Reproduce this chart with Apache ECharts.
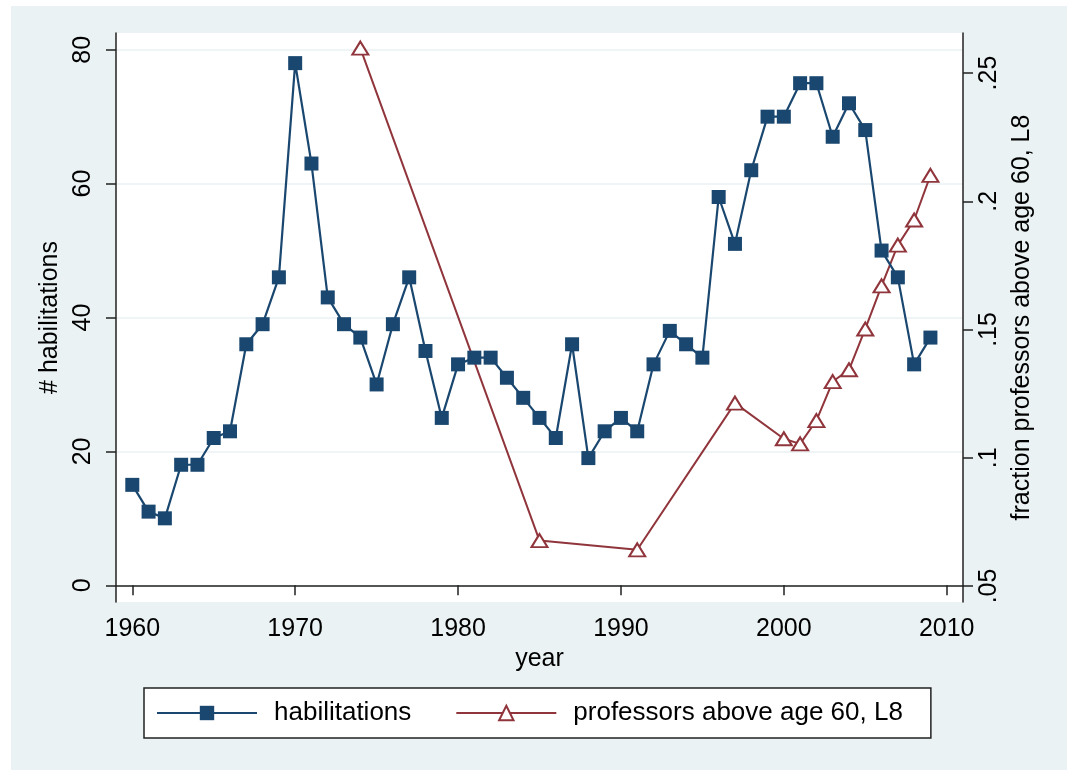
<!DOCTYPE html>
<html>
<head>
<meta charset="utf-8">
<script src="https://cdn.jsdelivr.net/npm/echarts@6/dist/echarts.min.js"></script>
<style>
  html, body { margin: 0; padding: 0; background: #fff; }
  #chart { width: 1069px; height: 770px; }
</style>
</head>
<body>
<div id="chart"></div>
<script>
// habilitations per year
const habYears = [1960, 1961, 1962, 1963, 1964, 1965, 1966, 1967, 1968, 1969,
  1970, 1971, 1972, 1973, 1974, 1975, 1976, 1977, 1978, 1979,
  1980, 1981, 1982, 1983, 1984, 1985, 1986, 1987, 1988, 1989,
  1990, 1991, 1992, 1993, 1994, 1995, 1996, 1997, 1998, 1999,
  2000, 2001, 2002, 2003, 2004, 2005, 2006, 2007, 2008, 2009];
const habValues = [15, 11, 10, 18, 18, 22, 23, 36, 39, 46,
  78, 63, 43, 39, 37, 30, 39, 46, 35, 25,
  33, 34, 34, 31, 28, 25, 22, 36, 19, 23,
  25, 23, 33, 38, 36, 34, 58, 51, 62, 70,
  70, 75, 75, 67, 72, 68, 50, 46, 33, 37];

// fraction professors above 60, lagged 8
const profYears = [1974, 1985, 1991, 1997, 2000, 2001, 2002, 2003, 2004, 2005, 2006, 2007, 2008, 2009];
const profValues = [0.2597, 0.0677, 0.0641, 0.1213, 0.1074, 0.1054, 0.1145, 0.1297, 0.1343, 0.1502, 0.1670, 0.1829, 0.1927, 0.2101];

// ticks
const xTicks = [1960, 1970, 1980, 1990, 2000, 2010];
const yLeftTicks = [0, 20, 40, 60, 80];
const yRightTicks = [0.05, 0.1, 0.15, 0.2, 0.25];
const yRightLabels = [".05", ".1", ".15", ".2", ".25"];

const navy = "#1A476F";
const maroon = "#90353B";
const bluishgray = "#EAF2F3";

const chart = echarts.init(document.getElementById("chart"));

const option = {
  backgroundColor: "#fff",
  animation: false,
  textStyle: { fontFamily: "Liberation Sans, Arial, sans-serif", color: "#000" },
  graphic: [
    {
      type: "rect",
      z: -10,
      silent: true,
      shape: { x: 11, y: 6, width: 1056, height: 764 },
      style: { fill: bluishgray }
    }
  ],
  grid: {
    left: 116,
    right: 106,
    top: 33,
    bottom: 168,
    show: true,
    backgroundColor: "#fff",
    borderWidth: 0,
    outerBoundsMode: "none"
  },
  legend: {
    left: 144,
    top: 688,
    orient: "horizontal",
    backgroundColor: "#fff",
    borderColor: "#222",
    borderWidth: 1.5,
    borderRadius: 0,
    padding: [12, 28, 12, 12],
    itemWidth: 100,
    itemHeight: 18,
    itemGap: 44,
    textStyle: { fontSize: 26, color: "#000", padding: [0, 0, 0, 12] },
    data: ["habilitations", "professors above age 60, L8"]
  },
  xAxis: {
    type: "value",
    min: 1959,
    max: 2011,
    name: "year",
    nameLocation: "middle",
    nameGap: 40,
    nameTextStyle: { fontSize: 25, color: "#000" },
    axisLine: { show: true, lineStyle: { color: "#222", width: 1.5 } },
    axisTick: { show: true, length: 10, customValues: xTicks, lineStyle: { color: "#222", width: 1.5 } },
    axisLabel: {
      customValues: xTicks,
      fontSize: 25,
      color: "#000",
      margin: 15,
      formatter: (v) => String(Math.round(v))
    },
    splitLine: { show: false }
  },
  yAxis: [
    {
      type: "value",
      position: "left",
      min: -2.5,
      max: 82.5,
      name: "# habilitations",
      nameLocation: "middle",
      nameRotate: 90,
      nameGap: 50,
      nameTextStyle: { fontSize: 25, color: "#000" },
      axisLine: { show: true, lineStyle: { color: "#222", width: 1.5 } },
      axisTick: { show: true, length: 10, customValues: yLeftTicks, lineStyle: { color: "#222", width: 1.5 } },
      axisLabel: { customValues: yLeftTicks, rotate: 90, fontSize: 25, color: "#000", margin: 20 },
      splitLine: { show: true, lineStyle: { color: bluishgray, width: 1.5 } }
    },
    {
      type: "value",
      position: "right",
      min: 0.04375,
      max: 0.2656,
      name: "fraction professors above age 60, L8",
      nameLocation: "middle",
      nameRotate: 90,
      nameGap: 41,
      nameTextStyle: { fontSize: 25, color: "#000" },
      axisLine: { show: true, lineStyle: { color: "#222", width: 1.5 } },
      axisTick: { show: true, length: 10, customValues: yRightTicks, lineStyle: { color: "#222", width: 1.5 } },
      axisLabel: {
        customValues: yRightTicks,
        rotate: 90,
        fontSize: 25,
        color: "#000",
        margin: 14,
        formatter: (v) => {
          const i = yRightTicks.findIndex((t) => Math.abs(t - v) < 1e-6);
          return i >= 0 ? yRightLabels[i] : "";
        }
      },
      splitLine: { show: false }
    }
  ],
  series: [
    {
      name: "habilitations",
      type: "line",
      yAxisIndex: 0,
      symbol: "rect",
      symbolSize: 14,
      lineStyle: { color: navy, width: 2.2 },
      itemStyle: { color: navy, borderWidth: 0 },
      z: 3,
      data: habYears.map((y, i) => [y, habValues[i]])
    },
    {
      name: "professors above age 60, L8",
      type: "line",
      yAxisIndex: 1,
      symbol: "triangle",
      symbolSize: [16, 13],
      lineStyle: { color: maroon, width: 2 },
      itemStyle: { color: "#fff", borderColor: maroon, borderWidth: 2 },
      z: 2,
      data: profYears.map((y, i) => [y, profValues[i]])
    }
  ]
};

chart.setOption(option);
</script>
</body>
</html>
